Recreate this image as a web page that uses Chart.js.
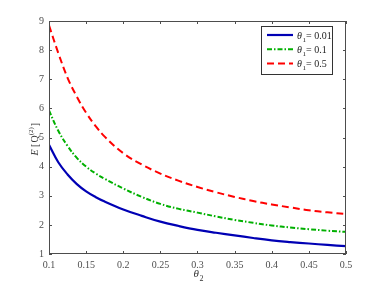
<!DOCTYPE html>
<html>
<head>
<meta charset="utf-8">
<script src="https://cdn.jsdelivr.net/npm/chart.js@4"></script>
<style>
	html, body { margin: 0; padding: 0; background: #fff; }
	#wrap { width: 382px; height: 286px; }
</style>
</head>
<body>
<div id="wrap"><canvas id="chart"></canvas></div>
<script>
(function () {
	'use strict';

	/* ---------- Data ---------- */

	var thetaTwo = [0.1, 0.1125, 0.125, 0.1375, 0.15, 0.1625, 0.175, 0.2, 0.225, 0.25, 0.275, 0.3, 0.325, 0.35, 0.375, 0.4, 0.425, 0.45, 0.475, 0.5];
	var eTheta001 = [4.75, 4.15, 3.73, 3.40, 3.15, 2.96, 2.80, 2.53, 2.31, 2.11, 1.96, 1.83, 1.73, 1.64, 1.55, 1.47, 1.41, 1.36, 1.31, 1.27];
	var eTheta01 = [5.93, 5.23, 4.71, 4.30, 4.00, 3.77, 3.58, 3.25, 2.96, 2.72, 2.55, 2.42, 2.29, 2.17, 2.07, 1.98, 1.91, 1.85, 1.80, 1.76];
	var eTheta05 = [8.85, 7.90, 7.05, 6.40, 5.85, 5.40, 5.03, 4.46, 4.07, 3.76, 3.51, 3.30, 3.12, 2.96, 2.82, 2.70, 2.60, 2.50, 2.43, 2.37];

	var seriesNames = ['0.01', '0.1', '0.5'];

	var SERIF = '"Liberation Serif", "Times New Roman", serif';
	var AXIS = '#4d4d4d';

	function pts(ys) {
		return thetaTwo.map(function (x, i) { return { x: x, y: ys[i] }; });
	}

	/* ---------- Frame, inward ticks, axis titles, legend ---------- */

	var matlabFrame = {
		id: 'matlabFrame',
		afterDraw: function (chart) {
			var ctx = chart.ctx;
			var a = chart.chartArea;
			var xs = chart.scales.x;
			var ys = chart.scales.y;
			ctx.save();
			ctx.strokeStyle = AXIS;
			ctx.lineWidth = 1;
			ctx.strokeRect(a.left + 0.5, a.top + 0.5, a.right - a.left - 1, a.bottom - a.top - 1);
			ctx.beginPath();
			xs.ticks.forEach(function (t) {
				var px = Math.round(xs.getPixelForValue(t.value)) + 0.5;
				ctx.moveTo(px, a.bottom); ctx.lineTo(px, a.bottom - 3);
				ctx.moveTo(px, a.top); ctx.lineTo(px, a.top + 3);
			});
			ys.ticks.forEach(function (t) {
				var py = Math.round(ys.getPixelForValue(t.value)) + 0.5;
				ctx.moveTo(a.left, py); ctx.lineTo(a.left + 3, py);
				ctx.moveTo(a.right, py); ctx.lineTo(a.right - 3, py);
			});
			ctx.stroke();

			// x title: theta_2
			ctx.fillStyle = '#333';
			ctx.textBaseline = 'alphabetic';
			ctx.font = 'italic 11px ' + SERIF;
			var cx = (a.left + a.right) / 2 - 4;
			ctx.fillText('\u03b8', cx, 277);
			ctx.font = '8px ' + SERIF;
			ctx.fillText('2', cx + 6, 281);

			// y title: E [Q^(2)]
			ctx.save();
			ctx.translate(38, (a.top + a.bottom) / 2 + 18);
			ctx.rotate(-Math.PI / 2);
			var x = 0;
			ctx.font = 'italic 10px ' + SERIF;
			ctx.fillText('E', x, 0); x += ctx.measureText('E ').width;
			ctx.font = '10px ' + SERIF;
			ctx.fillText('[', x, 0); x += ctx.measureText('[').width + 1;
			ctx.fillText('Q', x, 0); x += ctx.measureText('Q').width;
			ctx.font = '7px ' + SERIF;
			ctx.fillText('(2)', x, -5); x += ctx.measureText('(2)').width + 1;
			ctx.font = '10px ' + SERIF;
			ctx.fillText(']', x, 0);
			ctx.restore();

			// legend box
			var lx = 261, ly = 26, lw = 71, lh = 48;
			ctx.fillStyle = '#fff';
			ctx.fillRect(lx, ly, lw, lh);
			ctx.strokeStyle = '#333';
			ctx.strokeRect(lx + 0.5, ly + 0.5, lw, lh);
			chart.data.datasets.forEach(function (ds, i) {
				var yy = 35 + i * 14.2;
				ctx.save();
				ctx.strokeStyle = ds.borderColor;
				ctx.lineWidth = ds.borderWidth;
				ctx.setLineDash(ds.borderDash || []);
				ctx.beginPath();
				ctx.moveTo(267, yy); ctx.lineTo(293, yy);
				ctx.stroke();
				ctx.restore();
				ctx.fillStyle = '#222';
				ctx.font = 'italic 10px ' + SERIF;
				ctx.fillText('\u03b8', 297, yy + 3.5);
				ctx.font = '7px ' + SERIF;
				ctx.fillText('1', 302.5, yy + 6.5);
				ctx.font = '10px ' + SERIF;
				ctx.fillText('= ' + seriesNames[i], 306, yy + 3.5);
			});
			ctx.restore();
		}
	};

	/* ---------- Chart ---------- */

	var lineBase = { pointRadius: 0, fill: false, tension: 0.4 };

	new Chart(document.getElementById('chart'), {
		type: 'line',
		data: {
			datasets: [
				Object.assign({
					label: '\u03b81 = ' + seriesNames[0],
					data: pts(eTheta001),
					borderColor: '#0000b4',
					borderWidth: 2.2,
				}, lineBase),
				Object.assign({
					label: '\u03b81 = ' + seriesNames[1],
					data: pts(eTheta01),
					borderColor: '#00b000',
					borderWidth: 2,
					borderDash: [5, 2, 1.5, 2],
				}, lineBase),
				Object.assign({
					label: '\u03b81 = ' + seriesNames[2],
					data: pts(eTheta05),
					borderColor: '#ff0000',
					borderWidth: 2,
					borderDash: [7, 4],
				}, lineBase),
			],
		},
		options: {
			responsive: true,
			maintainAspectRatio: false,
			animation: false,
			layout: { padding: { left: 0, right: 36, top: 21, bottom: 0 } },
			plugins: { legend: { display: false }, tooltip: { enabled: false } },
			scales: {
				x: {
					type: 'linear',
					min: 0.1,
					max: 0.5,
					grid: { display: false, drawTicks: false },
					border: { display: false },
					ticks: {
						stepSize: 0.05,
						color: AXIS,
						padding: 5,
						maxRotation: 0,
						font: { family: SERIF, size: 10 },
						callback: function (v) { return String(Number(v.toFixed(2))); },
					},
					afterFit: function (s) { s.height = 32; },
				},
				y: {
					min: 1,
					max: 9,
					grid: { display: false, drawTicks: false },
					border: { display: false },
					ticks: {
						stepSize: 1,
						color: AXIS,
						padding: 5,
						font: { family: SERIF, size: 10 },
					},
					afterFit: function (s) { s.width = 49; },
				},
			},
		},
		plugins: [matlabFrame],
	});
})();
</script>
</body>
</html>
